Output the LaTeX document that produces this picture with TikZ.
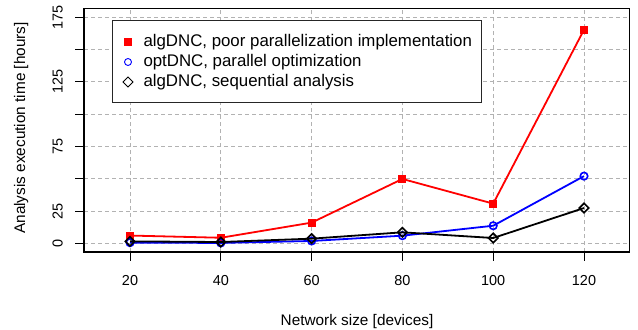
\documentclass[tikz,border=0pt]{standalone}
\usepackage{fontspec}
\setmainfont{Liberation Sans}
\usetikzlibrary{shapes.geometric}
\begin{document}
\begin{tikzpicture}[x=1bp,y=1bp,
  gridline/.style={draw=gray!60, line width=0.8bp, dash pattern=on 4bp off 3bp},
  frame/.style={draw=black, line width=1.3bp},
  tickmark/.style={draw=black, line width=0.9bp},
  ticklbl/.style={font=\fontsize{14.5}{16}\selectfont, inner sep=0},
  axtitle/.style={font=\fontsize{15.4}{18}\selectfont, inner sep=0},
  legtext/.style={font=\fontsize{16.9}{19}\selectfont, inner sep=0, anchor=base west},
  redline/.style={draw=red, line width=1.8bp},
  blueline/.style={draw=blue, line width=1.8bp},
  blackline/.style={draw=black, line width=1.8bp},
  sqmark/.style={rectangle, fill=red, minimum size=8bp, inner sep=0},
  cimark/.style={circle, draw=blue, line width=1.6bp, minimum size=7.5bp, inner sep=0},
  dimark/.style={diamond, draw=black, line width=1.6bp, minimum width=10bp, minimum height=10bp, inner sep=0},
  legsq/.style={rectangle, fill=red, minimum size=8bp, inner sep=0},
  legci/.style={circle, draw=blue, line width=0.9bp, minimum size=7bp, inner sep=0},
  legdi/.style={diamond, draw=black, line width=0.9bp, minimum width=10.5bp, minimum height=10.5bp, inner sep=0},
]
\useasboundingbox (0,0) rectangle (638,329);
\begin{scope}[shift={(39.2,85.7)}, x=4.54bp, y=1.292bp]
  % grid
  \foreach \gx in {20,40,...,120} \draw[gridline] (\gx,-6.75) -- (\gx,181.75);
  \foreach \gy in {0,25,...,175} \draw[gridline] (9.87,\gy) -- (130.07,\gy);
  % x ticks and labels
  \foreach \gx in {20,40,...,120} {
    \coordinate (xt\gx) at (\gx,-6.75);
    \coordinate (xe\gx) at ([yshift=-8.5bp]xt\gx);
    \draw[tickmark] (xt\gx) -- (xe\gx);
    \node[ticklbl, anchor=base] (xl\gx) at (\gx,-32.8) {\gx};
  }
  % y ticks and labels
  \foreach \gy in {0,25,...,175} {
    \coordinate (yt\gy) at (9.87,\gy);
    \coordinate (ye\gy) at ([xshift=-9bp]yt\gy);
    \draw[tickmark] (yt\gy) -- (ye\gy);
  }
  \foreach \gy in {0,25,75,125,175}
    \node[ticklbl, rotate=90, anchor=base] (yl\gy) at (5.18,\gy) {\gy};
  % data points
  \coordinate (r1) at (20,6);   \coordinate (r2) at (40,4.3);
  \coordinate (r3) at (60,16);  \coordinate (r4) at (80,49.8);
  \coordinate (r5) at (100,30.7); \coordinate (r6) at (120,165.3);
  \coordinate (b1) at (20,0.5); \coordinate (b2) at (40,0.3);
  \coordinate (b3) at (60,1.8); \coordinate (b4) at (80,5.9);
  \coordinate (b5) at (100,13.6); \coordinate (b6) at (120,52);
  \coordinate (k1) at (20,1.5); \coordinate (k2) at (40,1);
  \coordinate (k3) at (60,3.6); \coordinate (k4) at (80,8.5);
  \coordinate (k5) at (100,4.1); \coordinate (k6) at (120,27.3);
  % series
  \draw[redline] (r1) -- (r2) -- (r3) -- (r4) -- (r5) -- (r6);
  \foreach \i in {1,...,6} \node[sqmark] (mr\i) at (r\i) {};
  \draw[blueline] (b1) -- (b2) -- (b3) -- (b4) -- (b5) -- (b6);
  \foreach \i in {1,...,6} \node[cimark] (mb\i) at (b\i) {};
  \draw[blackline] (k1) -- (k2) -- (k3) -- (k4) -- (k5) -- (k6);
  \foreach \i in {1,...,6} \node[dimark] (mk\i) at (k\i) {};
\end{scope}
% frame
\draw[frame] (84,77) rectangle (629.7,320.7);
% axis titles
\node[axtitle, anchor=base] (xtitle) at (357,3.5) {Network size [devices]};
\node[axtitle, rotate=90, anchor=base] (ytitle) at (25,201) {Analysis execution time [hours]};
% legend
\draw[draw=black!85, line width=1bp, fill=white] (112.3,226.3) rectangle (481,308);
\node[legsq] (l1) at (128.3,287) {};
\node[legci] (l2) at (128,267) {};
\node[legdi] (l3) at (128,247) {};
\node[legtext] (t1) at (143.3,282.3) {algDNC, poor parallelization implementation};
\node[legtext] (t2) at (143.3,262.3) {optDNC, parallel optimization};
\node[legtext] (t3) at (143.3,242.3) {algDNC, sequential analysis};
\end{tikzpicture}
\end{document}
